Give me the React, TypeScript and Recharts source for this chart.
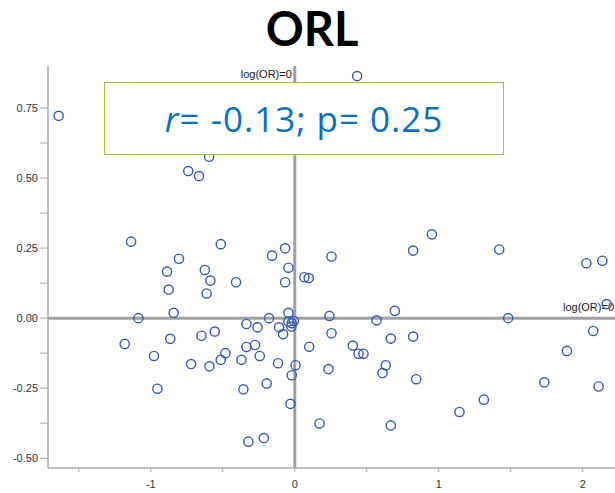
import { ScatterChart, Scatter, XAxis, YAxis, ReferenceLine } from "recharts";

// log(OR) on x, effect on y
const logOR = [
  -1.64, -0.74, -0.665, -0.595, -1.137, -0.514, -0.804, -0.887, -0.625, -0.158,
  -0.067, -0.044, 0.433, 0.255, 0.822, 0.952, 1.42, 2.025, 2.136, -0.586,
  -0.876, -0.612, -0.408, -0.067, 0.067, 0.097, -0.841, -1.086, -0.044, -0.179,
  -0.044, -0.021, -0.023, -0.007, -0.336, -0.259, -0.109, -0.081, -0.556, -0.648,
  -0.865, -1.181, -0.336, -0.276, -0.482, -0.514, -0.37, -0.243, -0.978, -0.72,
  -0.593, -0.116, 0.005, -0.021, 0.1, -0.954, -0.357, -0.195, -0.03, -0.322,
  -0.215, 2.166, 0.241, 0.695, 0.568, 1.482, 0.255, 0.403, 0.443, 0.477,
  0.667, 0.822, 0.234, 0.632, 0.609, 0.843, 2.073, 1.89, 1.733, 2.11,
  1.313, 1.144, 0.172, 0.667,
];

const effect = [
  0.722, 0.525, 0.507, 0.576, 0.273, 0.264, 0.212, 0.166, 0.172, 0.223,
  0.249, 0.18, 0.864, 0.22, 0.241, 0.299, 0.245, 0.196, 0.205, 0.134,
  0.102, 0.088, 0.128, 0.128, 0.146, 0.143, 0.019, 0.0, 0.019, 0.0,
  -0.012, -0.018, -0.03, -0.01, -0.021, -0.033, -0.033, -0.057, -0.048, -0.063,
  -0.074, -0.092, -0.103, -0.096, -0.125, -0.149, -0.149, -0.135, -0.135, -0.164,
  -0.172, -0.161, -0.168, -0.204, -0.102, -0.252, -0.254, -0.233, -0.306, -0.441,
  -0.428, 0.05, 0.008, 0.026, -0.008, 0.0, -0.054, -0.098, -0.127, -0.127,
  -0.073, -0.066, -0.182, -0.168, -0.196, -0.218, -0.046, -0.117, -0.229, -0.244,
  -0.291, -0.335, -0.376, -0.383,
];

const xTicks = [-1.5, -1, -0.5, 0, 0.5, 1, 1.5, 2];
const yTicks = [-0.5, -0.375, -0.25, -0.125, 0, 0.125, 0.25, 0.375, 0.5, 0.625, 0.75];

const points = logOR.map((x, i) => ({ x, y: effect[i] }));

const axisFont = { fill: "#333", fontSize: 11, fontFamily: "Liberation Sans, Arial, sans-serif" };
const frame = "#ababab";

const Ring = (props: any) => (
  <circle cx={props.cx} cy={props.cy} r={4.6} fill="none" stroke="#3557b7" strokeWidth={1.4} />
);

const xLabel = (v: number) => (Number.isInteger(v) ? String(v) : "");
const yLabel = (v: number) => (Math.abs(v * 4 - Math.round(v * 4)) < 1e-6 ? v.toFixed(2) : "");

const VLineLabel = (props: any) => {
  const vb = props.viewBox;
  return (
    <text x={vb.x - 3} y={vb.y + 12} textAnchor="end" {...axisFont} fill="#222">
      log(OR)=0
    </text>
  );
};

const HLineLabel = (props: any) => {
  const vb = props.viewBox;
  return (
    <text x={vb.x + vb.width - 1} y={vb.y - 7} textAnchor="end" {...axisFont} fill="#222">
      log(OR)=0
    </text>
  );
};

export default function App() {
  return (
    <div style={{ position: "absolute", left: 0, top: 0, width: 615, height: 493, overflow: "hidden", background: "#fff" }}>
      <ScatterChart width={615} height={493} margin={{ top: 66, right: 0, bottom: 0, left: 0 }}>
        <XAxis
          type="number"
          dataKey="x"
          domain={[-1.714, 2.224]}
          allowDataOverflow
          ticks={xTicks}
          tickFormatter={xLabel}
          height={25}
          tickSize={4}
          tickMargin={8}
          tick={axisFont}
          axisLine={{ stroke: frame, strokeWidth: 1.5 }}
          tickLine={{ stroke: frame }}
        />
        <XAxis
          xAxisId="top"
          orientation="top"
          type="number"
          domain={[-1.714, 2.224]}
          allowDataOverflow
          height={0}
          tick={false}
          tickLine={false}
          axisLine={{ stroke: frame, strokeWidth: 1.5 }}
        />
        <YAxis
          type="number"
          dataKey="y"
          domain={[-0.535, 0.9]}
          allowDataOverflow
          ticks={yTicks}
          tickFormatter={yLabel}
          width={48}
          tickSize={8}
          tickMargin={2}
          tick={axisFont}
          axisLine={{ stroke: frame, strokeWidth: 1.5 }}
          tickLine={{ stroke: frame }}
        />
        <ReferenceLine x={0} stroke="#a0a0a0" strokeWidth={3} label={VLineLabel} />
        <ReferenceLine y={0} stroke="#a0a0a0" strokeWidth={3} label={HLineLabel} />
        <Scatter data={points} shape={Ring} isAnimationActive={false} />
      </ScatterChart>
      <div
        style={{
          position: "absolute",
          left: 200,
          top: 0,
          width: 224,
          textAlign: "center",
          fontFamily: "Lato, sans-serif",
          fontWeight: 700,
          fontSize: 47,
          lineHeight: "normal",
          color: "#000",
        }}
      >
        ORL
      </div>
      <div
        style={{
          position: "absolute",
          left: 104,
          top: 82,
          width: 398,
          height: 71,
          border: "1.5px solid #9cc63f",
          background: "#fff",
          display: "flex",
          alignItems: "center",
          justifyContent: "center",
          fontFamily: "Open Sans, sans-serif",
          fontSize: 35,
          lineHeight: 1,
          color: "#0a70c0",
          letterSpacing: 1.0,
        }}
      >
        <span>
          <i>r</i>= -0.13; p= 0.25
        </span>
      </div>
    </div>
  );
}
